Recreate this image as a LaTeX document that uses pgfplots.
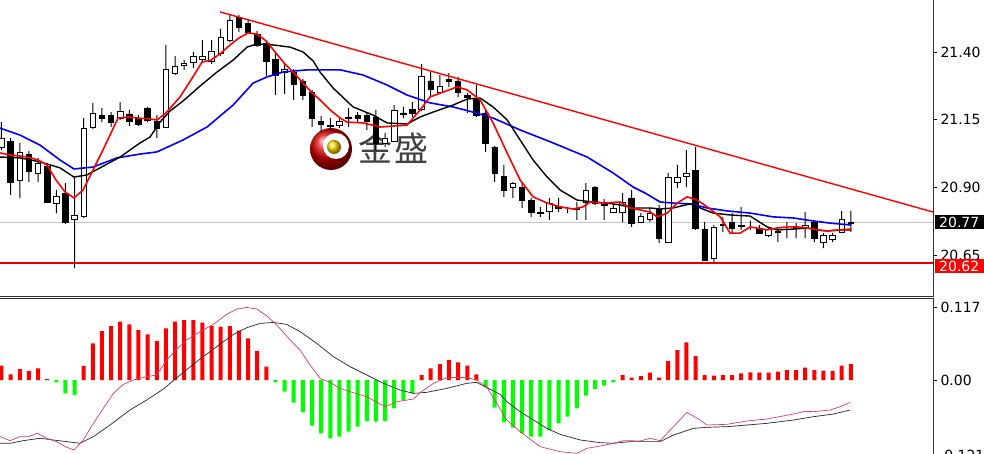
\documentclass[border=0pt]{standalone}
\usepackage{pgfplots}
\pgfplotsset{compat=1.18}
\usepackage{pgfplotstable}
\usepackage{fontspec}
\setmainfont{DejaVu Sans}
\newfontfamily\cjk{Noto Sans CJK SC}

\definecolor{mtred}{RGB}{255,0,0}
\definecolor{mtblue}{RGB}{0,0,255}
\definecolor{mtgreen}{RGB}{0,255,0}
\definecolor{macdpink}{RGB}{215,60,100}

% candles: index, open, high, low, close
\pgfplotstableread{
i O H L C
0 21.049 21.141 21.038 21.082
1 21.068 21.082 20.872 20.920
2 20.924 21.064 20.861 21.031
3 21.023 21.034 20.920 20.960
4 20.953 21.009 20.920 20.990
5 20.979 20.990 20.842 20.846
6 20.839 20.890 20.805 20.868
7 20.876 20.916 20.765 20.772
8 20.783 20.935 20.602 20.798
9 20.791 21.156 20.787 21.116
10 21.123 21.212 21.116 21.175
11 21.164 21.193 21.141 21.153
12 21.164 21.178 21.123 21.141
13 21.156 21.215 21.149 21.182
14 21.171 21.186 21.127 21.145
15 21.153 21.167 21.127 21.134
16 21.193 21.197 21.141 21.149
17 21.145 21.167 21.082 21.116
18 21.123 21.426 21.119 21.334
19 21.322 21.385 21.315 21.345
20 21.352 21.370 21.334 21.356
21 21.363 21.400 21.341 21.385
22 21.374 21.444 21.359 21.385
23 21.367 21.444 21.356 21.404
24 21.393 21.485 21.385 21.455
25 21.444 21.537 21.437 21.518
26 21.529 21.537 21.474 21.492
27 21.507 21.518 21.466 21.474
28 21.466 21.477 21.418 21.426
29 21.433 21.441 21.311 21.367
30 21.374 21.400 21.241 21.315
31 21.326 21.356 21.245 21.337
32 21.326 21.337 21.223 21.282
33 21.293 21.300 21.223 21.241
34 21.252 21.260 21.123 21.156
35 21.145 21.164 21.105 21.134
36 21.130 21.156 21.112 21.127
37 21.130 21.153 21.119 21.145
38 21.160 21.193 21.123 21.156
39 21.164 21.178 21.141 21.153
40 21.164 21.178 21.112 21.145
41 21.160 21.186 21.038 21.064
42 21.064 21.101 21.049 21.082
43 21.071 21.204 21.068 21.186
44 21.175 21.197 21.156 21.171
45 21.189 21.215 21.160 21.175
46 21.189 21.356 21.182 21.308
47 21.293 21.326 21.234 21.263
48 21.252 21.315 21.249 21.274
49 21.297 21.322 21.271 21.293
50 21.293 21.308 21.234 21.252
51 21.241 21.249 21.175 21.234
52 21.226 21.278 21.160 21.164
53 21.175 21.186 21.031 21.064
54 21.049 21.053 20.920 20.953
55 20.942 20.983 20.865 20.890
56 20.901 20.920 20.861 20.916
57 20.901 20.920 20.824 20.853
58 20.853 20.861 20.791 20.809
59 20.805 20.828 20.791 20.809
60 20.813 20.861 20.780 20.842
61 20.828 20.861 20.809 20.824
62 20.816 20.828 20.805 20.816
63 20.820 20.846 20.780 20.824
64 20.846 20.916 20.780 20.887
65 20.901 20.905 20.835 20.842
66 20.842 20.857 20.780 20.835
67 20.809 20.835 20.805 20.824
68 20.809 20.879 20.772 20.846
69 20.861 20.890 20.754 20.768
70 20.772 20.805 20.768 20.791
71 20.780 20.824 20.772 20.805
72 20.820 20.835 20.695 20.713
73 20.698 20.953 20.695 20.935
74 20.920 20.983 20.898 20.935
75 20.942 21.038 20.901 20.953
76 20.964 21.049 20.743 20.750
77 20.743 20.772 20.632 20.632
78 20.639 20.761 20.621 20.754
79 20.761 20.791 20.735 20.765
80 20.772 20.805 20.731 20.750
81 20.757 20.828 20.743 20.761
82 20.754 20.776 20.743 20.754
83 20.750 20.761 20.731 20.731
84 20.724 20.750 20.717 20.743
85 20.739 20.754 20.698 20.735
86 20.750 20.772 20.713 20.750
87 20.750 20.768 20.713 20.754
88 20.750 20.809 20.713 20.761
89 20.772 20.772 20.698 20.713
90 20.698 20.731 20.676 20.724
91 20.709 20.731 20.698 20.724
92 20.735 20.813 20.731 20.783
93 20.768 20.813 20.735 20.772
}\candles

% MACD histogram
\pgfplotstableread{
i h
0 0.0232
1 0.0092
2 0.0178
3 0.0146
4 0.0189
5 0.0016
6 -0.0038
7 -0.0216
8 -0.0243
9 0.0227
10 0.0593
11 0.0793
12 0.0874
13 0.0944
14 0.0900
15 0.0809
16 0.0739
17 0.0631
18 0.0836
19 0.0944
20 0.0971
21 0.0971
22 0.0928
23 0.0874
24 0.0863
25 0.0874
26 0.0798
27 0.0674
28 0.0469
29 0.0216
30 -0.0038
31 -0.0189
32 -0.0367
33 -0.0523
34 -0.0739
35 -0.0863
36 -0.0944
37 -0.0917
38 -0.0836
39 -0.0755
40 -0.0663
41 -0.0674
42 -0.0663
43 -0.0458
44 -0.0324
45 -0.0216
46 0.0081
47 0.0189
48 0.0259
49 0.0324
50 0.0286
51 0.0232
52 0.0092
53 -0.0120
54 -0.0448
55 -0.0685
56 -0.0771
57 -0.0863
58 -0.0917
59 -0.0917
60 -0.0809
61 -0.0701
62 -0.0593
63 -0.0458
64 -0.0253
65 -0.0146
66 -0.0092
67 -0.0038
68 0.0081
69 0.0038
70 0.0065
71 0.0119
72 0.0038
73 0.0307
74 0.0485
75 0.0609
76 0.0388
77 0.0081
78 0.0070
79 0.0081
80 0.0081
81 0.0108
82 0.0124
83 0.0119
84 0.0119
85 0.0135
86 0.0162
87 0.0162
88 0.0200
89 0.0162
90 0.0151
91 0.0146
92 0.0232
93 0.0259
}\hist

\pgfplotsset{
  panel/.style={scale only axis, anchor=south west, width=933bp,
    xmin=-0.164, xmax=102.0},
  mainpanel/.style={panel, at={(0,157.5bp)}, height=296.5bp,
    ymin=20.497, ymax=21.592},
  macdpanel/.style={panel, at={(0,0)}, height=155bp,
    ymin=-0.1197, ymax=0.1311},
  rightticks/.style={axis line style={draw=none}, xtick=\empty,
    ytick pos=right, yticklabel pos=right, tick align=outside,
    major tick length=4bp, tick style={black, line width=0.8bp},
    yticklabel style={font=\fontsize{14bp}{16bp}\selectfont, anchor=west}},
}

\begin{document}
\begin{tikzpicture}
\useasboundingbox (0,0) rectangle (984bp,454bp);
\fill[white] (0,0) rectangle (984bp,454bp);

% watermark
\begin{scope}[shift={(331bp,305bp)}]
  \shade[ball color=red!85!black] (0,0) circle (21bp);
  \fill[white] (5bp,3bp) circle (13bp);
  \shade[ball color=yellow!70!orange] (3bp,2bp) circle (7bp);
\end{scope}
\node[text=black!75, font=\cjk\fontsize{34bp}{36bp}\selectfont] at (375bp,306bp) {金};
\node[text=black!75, font=\cjk\fontsize{34bp}{36bp}\selectfont] at (411bp,306bp) {盛};

% price panel frame
\begin{axis}[mainpanel, rightticks,
  ytick={20.65,20.90,21.15,21.40},
  yticklabels={20.65,20.90,21.15,21.40}]
  \addplot[gray!45, line width=0.8bp] coordinates {(-1,20.77) (103,20.77)};
\end{axis}

% wicks
\begin{axis}[mainpanel, hide axis, ybar stacked, bar width=1bp]
  \addplot[draw=none, fill=none] table[x=i, y=L] {\candles};
  \addplot[draw=none, fill=black] table[x=i, y expr=\thisrow{H}-\thisrow{L}] {\candles};
\end{axis}

% bodies
\begin{axis}[mainpanel, hide axis, ybar stacked, bar width=5.5bp]
  \addplot[draw=none, fill=none] table[x=i, y expr={min(\thisrow{O},\thisrow{C})}] {\candles};
  \addplot[draw=black, fill=black, line width=0.8bp] table[x=i, y expr={max(\thisrow{O}-\thisrow{C},0)}] {\candles};
  \addplot[draw=black, fill=white, line width=0.8bp] table[x=i, y expr={max(\thisrow{C}-\thisrow{O},0)}] {\candles};
\end{axis}

% moving averages, trend line, support
\begin{axis}[mainpanel, hide axis]
  \addplot[mtblue, line width=1.6bp] coordinates {
    (-0.16,21.119)(2.03,21.093)(4.22,21.056)(6.41,21.001)(7.94,20.968)
    (10.02,20.975)(12.65,21.009)(15.17,21.023)(17.03,21.031)(19.88,21.075)
    (22.51,21.123)(25.36,21.204)(27.55,21.285)(29.08,21.308)(30.83,21.326)
    (33.46,21.334)(37.08,21.334)(39.59,21.315)(42.22,21.278)(44.41,21.241)
    (46.93,21.212)(49.45,21.197)(51.64,21.178)(53.83,21.156)(56.79,21.112)
    (60.41,21.064)(64.13,21.012)(66.98,20.953)(69.17,20.901)(70.48,20.879)
    (72.12,20.846)(73.55,20.842)(75.41,20.839)(77.27,20.824)(79.46,20.813)
    (81.98,20.805)(84.50,20.791)(86.69,20.787)(88.88,20.776)(90.74,20.768)
    (93.04,20.761)};
  \addplot[black, line width=1.4bp] coordinates {
    (-0.16,21.012)(2.03,21.009)(4.22,20.994)(6.41,20.972)(7.94,20.938)
    (9.36,20.946)(10.79,20.972)(12.98,21.012)(15.17,21.064)(16.27,21.086)
    (17.36,21.141)(18.46,21.182)(19.88,21.219)(21.74,21.274)(23.60,21.326)
    (25.36,21.370)(26.89,21.418)(27.99,21.430)(29.74,21.426)(31.60,21.418)
    (33.02,21.400)(34.12,21.367)(34.88,21.326)(36.31,21.267)(38.50,21.197)
    (40.69,21.167)(42.22,21.138)(44.41,21.134)(45.84,21.160)(47.26,21.178)
    (49.45,21.204)(50.99,21.226)(52.41,21.230)(53.83,21.197)(55.37,21.149)
    (56.79,21.075)(58.21,21.001)(59.75,20.938)(61.17,20.890)(63.03,20.853)
    (64.79,20.846)(66.32,20.842)(67.74,20.835)(69.17,20.824)(71.03,20.824)
    (72.12,20.820)(73.55,20.824)(75.41,20.839)(76.51,20.824)(77.93,20.805)
    (79.79,20.798)(81.98,20.794)(83.84,20.754)(84.94,20.743)(86.69,20.746)
    (88.23,20.750)(89.32,20.743)(90.42,20.739)(91.84,20.743)(93.04,20.743)};
  \addplot[mtred, line width=1.6bp] coordinates {
    (-0.16,21.027)(0.93,21.020)(2.90,21.012)(4.00,21.001)(4.98,20.983)
    (5.97,20.927)(6.96,20.883)(7.94,20.861)(8.93,20.890)(10.02,20.964)
    (11.01,21.031)(11.99,21.101)(12.76,21.156)(13.96,21.160)(14.95,21.156)
    (16.05,21.153)(17.03,21.149)(18.02,21.175)(19.55,21.234)(20.97,21.308)
    (21.96,21.363)(22.95,21.370)(23.93,21.393)(25.03,21.426)(26.01,21.452)
    (27.00,21.470)(27.99,21.466)(28.97,21.441)(29.96,21.400)(30.94,21.359)
    (31.93,21.326)(33.02,21.285)(34.01,21.249)(34.88,21.223)(35.98,21.186)
    (37.08,21.156)(37.84,21.141)(39.59,21.138)(41.46,21.123)(44.41,21.130)
    (45.84,21.186)(46.93,21.234)(49.89,21.271)(50.99,21.260)(52.41,21.223)
    (53.83,21.138)(55.37,21.027)(56.79,20.927)(58.21,20.865)(59.75,20.842)
    (61.17,20.828)(62.60,20.820)(63.69,20.828)(64.46,20.846)(65.88,20.842)
    (67.74,20.846)(68.84,20.824)(71.03,20.809)(71.80,20.791)(72.89,20.805)
    (73.99,20.842)(75.08,20.865)(76.18,20.853)(77.27,20.828)(78.70,20.791)
    (79.79,20.731)(80.89,20.731)(81.98,20.754)(83.84,20.743)(84.94,20.750)
    (86.04,20.754)(87.13,20.754)(88.23,20.750)(89.32,20.743)(90.42,20.739)
    (91.84,20.743)(93.04,20.746)};
  \addplot[mtred, line width=1.4bp] coordinates {(23.93,21.548) (102.0,20.809)};
  \addplot[red!90!black, line width=1.4bp] coordinates {(-1,20.62) (103,20.62)};
\end{axis}

% MACD panel
\begin{axis}[macdpanel, rightticks,
  ytick={0,0.117}, yticklabels={0.00,0.117}]
  \addplot[ybar, bar width=4bp, bar shift=0pt, draw=none, fill=mtred]
    table[x=i, y expr={max(\thisrow{h},0)}] {\hist};
  \addplot[ybar, bar width=4bp, bar shift=0pt, draw=none, fill=mtgreen]
    table[x=i, y expr={min(\thisrow{h},0)}] {\hist};
  \addplot[black!85, line width=0.7bp] coordinates {
    (-0.16,-0.1024)(0.93,-0.1024)(2.39,-0.0981)(4.22,-0.0943)(5.68,-0.0970)
    (7.14,-0.0997)(8.60,-0.1024)(10.06,-0.0916)(11.88,-0.0728)(14.07,-0.0485)
    (15.90,-0.0323)(17.73,-0.0146)(19.55,0.0081)(21.74,0.0340)(23.57,0.0539)
    (25.39,0.0738)(26.85,0.0846)(28.31,0.0916)(29.77,0.0932)(31.23,0.0900)
    (32.70,0.0782)(34.52,0.0593)(36.35,0.0377)(38.17,0.0216)(40.00,0.0081)
    (41.82,-0.0054)(43.65,-0.0162)(45.10,-0.0216)(46.57,-0.0199)(48.76,-0.0135)
    (50.95,-0.0054)(52.00,-0.0038)(53.50,-0.0150)(54.60,-0.0230)(55.33,-0.0350)
    (56.79,-0.0512)(58.25,-0.0647)(59.71,-0.0782)(61.17,-0.0879)(63.36,-0.0970)
    (65.55,-0.1013)(67.01,-0.1024)(68.84,-0.0997)(70.66,-0.0997)(72.12,-0.0997)
    (73.59,-0.0889)(75.78,-0.0782)(77.24,-0.0765)(79.43,-0.0755)(81.62,-0.0728)
    (83.81,-0.0701)(86.73,-0.0647)(88.92,-0.0593)(91.11,-0.0550)(92.94,-0.0485)};
  \addplot[macdpink, line width=0.7bp] coordinates {
    (-0.16,-0.0916)(0.93,-0.0981)(2.03,-0.0916)(2.94,-0.0916)(3.93,-0.0862)
    (4.95,-0.0943)(6.04,-0.0997)(6.96,-0.1078)(7.94,-0.1132)(8.96,-0.0970)
    (10.06,-0.0701)(11.15,-0.0458)(12.25,-0.0216)(13.35,-0.0070)(14.44,0.0000)
    (15.90,0.0054)(17.00,0.0081)(18.09,0.0323)(19.19,0.0501)(20.28,0.0647)
    (21.74,0.0782)(23.20,0.0900)(24.66,0.1062)(25.76,0.1148)(26.85,0.1175)
    (27.95,0.1148)(29.04,0.1040)(30.14,0.0889)(31.60,0.0647)(32.70,0.0485)
    (33.79,0.0243)(34.88,0.0027)(35.98,-0.0038)(37.08,-0.0135)(38.17,-0.0189)
    (40.00,-0.0270)(42.00,-0.0431)(43.30,-0.0350)(45.10,-0.0307)(46.00,-0.0189)
    (47.30,-0.0054)(48.76,0.0038)(50.95,0.0043)(52.00,0.0000)(53.10,-0.0108)
    (54.00,-0.0320)(55.33,-0.0647)(56.79,-0.0835)(58.98,-0.1078)(61.17,-0.1159)
    (63.00,-0.1186)(64.09,-0.1105)(65.19,-0.1078)(67.01,-0.1024)(68.11,-0.0981)
    (69.93,-0.0986)(71.03,-0.0943)(72.12,-0.0981)(73.59,-0.0755)(75.05,-0.0523)
    (76.50,-0.0647)(77.24,-0.0728)(79.43,-0.0717)(81.62,-0.0663)(83.81,-0.0631)
    (86.73,-0.0550)(88.01,-0.0507)(88.92,-0.0512)(90.74,-0.0485)(91.84,-0.0431)
    (92.94,-0.0361)};
\end{axis}

% panel borders
\draw[black!80, line width=1bp] (933.5bp,454bp) -- (933.5bp,157.3bp) -- (0,157.3bp);
\draw[black!80, line width=1bp] (0,155bp) -- (933.5bp,155bp) -- (933.5bp,0);

% price labels
\fill[black] (935bp,225bp) rectangle (984bp,239bp);
\node[anchor=west, text=white, inner sep=0pt, font=\fontsize{14bp}{16bp}\selectfont] at (939bp,232bp) {20.77};
\fill[mtred] (935bp,181bp) rectangle (984bp,195bp);
\node[anchor=west, text=white, inner sep=0pt, font=\fontsize{14bp}{16bp}\selectfont] at (939bp,188bp) {20.62};
\node[anchor=west, inner sep=0pt, font=\fontsize{14bp}{16bp}\selectfont] at (939bp,-1bp) {-0.121};
\end{tikzpicture}
\end{document}
